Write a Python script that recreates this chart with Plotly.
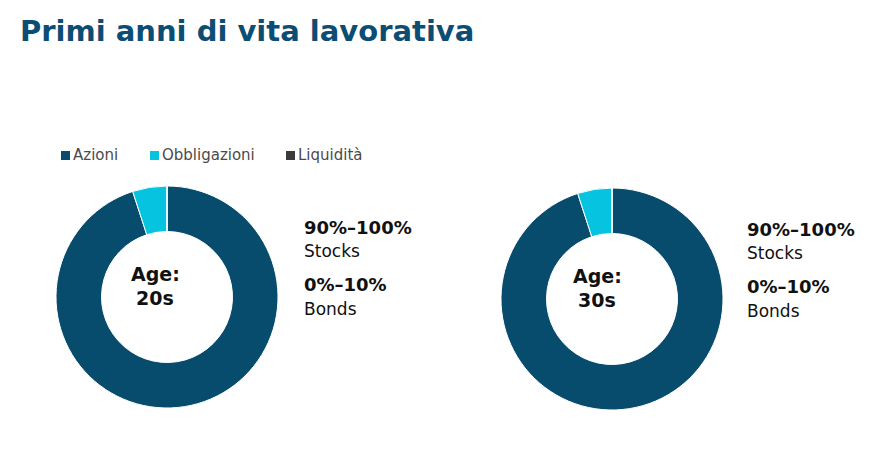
import plotly.graph_objects as go

# Browser body margin is 8px; size the figure to fit inside the window
W, H = 869, 442
OFF = 8

categories = ["Azioni", "Obbligazioni", "Liquidità"]
colors = ["#074B6D", "#06C3E0", "#3B3B3B"]
values_20s = [95, 5, 0]
values_30s = [95, 5, 0]
ages = ["20s", "30s"]
stocks_range = ["90%–100%", "90%–100%"]
bonds_range = ["0%–10%", "0%–10%"]
title_text = "Primi anni di vita lavorativa"

FONT = "DejaVu Sans"

def px(x):
    return (x - OFF) / W

def py(y):
    return 1 - (y - OFF) / H

fig = go.Figure()

domains = [
    dict(x=[px(56), px(278)], y=[py(408), py(186)]),
    dict(x=[px(501), px(723)], y=[py(410), py(188)]),
]
for vals, dom in zip([values_20s, values_30s], domains):
    fig.add_trace(go.Pie(
        labels=categories, values=vals, hole=0.59, sort=False,
        direction="clockwise", rotation=0,
        marker=dict(colors=colors, line=dict(color="white", width=1)),
        textinfo="none", hoverinfo="label+percent", showlegend=False,
        domain=dom,
    ))

ann = []
ann.append(dict(text="<b>" + title_text + "</b>", x=px(18), y=py(31), xref="paper", yref="paper",
                xanchor="left", yanchor="middle", showarrow=False,
                font=dict(family=FONT, size=29, color="#0B4D73")))

# legend (manual)
leg_sq = [61, 150, 286]
shapes = []
for cat, col, sx in zip(categories, colors, leg_sq):
    shapes.append(dict(type="rect", xref="paper", yref="paper",
                       x0=px(sx), x1=px(sx + 9), y0=py(160), y1=py(151),
                       fillcolor=col, line=dict(width=0)))
    ann.append(dict(text=cat, x=px(sx + 10), y=py(155), xref="paper", yref="paper",
                    xanchor="left", yanchor="middle", showarrow=False,
                    font=dict(family=FONT, size=15, color="#4A4A4A")))

centers = [(155, 274), (597, 276)]
right_x = [302, 745]
for i, ((cx, cy), rx) in enumerate(zip(centers, right_x)):
    ann.append(dict(text="<b>Age:</b>", x=px(cx), y=py(cy), xref="paper", yref="paper",
                    xanchor="center", yanchor="middle", showarrow=False,
                    font=dict(family=FONT, size=19, color="#111111")))
    ann.append(dict(text="<b>" + ages[i] + "</b>", x=px(cx), y=py(cy + 24), xref="paper", yref="paper",
                    xanchor="center", yanchor="middle", showarrow=False,
                    font=dict(family=FONT, size=19, color="#111111")))
    off = cy - 274
    rows = [("<b>" + stocks_range[i] + "</b>", 227), ("Stocks", 251),
            ("<b>" + bonds_range[i] + "</b>", 284), ("Bonds", 309)]
    for t, yy in rows:
        ann.append(dict(text=t, x=px(rx), y=py(yy + off), xref="paper", yref="paper",
                        xanchor="left", yanchor="middle", showarrow=False,
                        font=dict(family=FONT, size=18 if t.startswith("<b>") else 17, color="#111111")))

fig.update_layout(
    width=W, height=H, margin=dict(l=0, r=0, t=0, b=0),
    paper_bgcolor="white", plot_bgcolor="white",
    annotations=ann, shapes=shapes, showlegend=False,
)

fig.write_html("out.html", config={"displayModeBar": False})
